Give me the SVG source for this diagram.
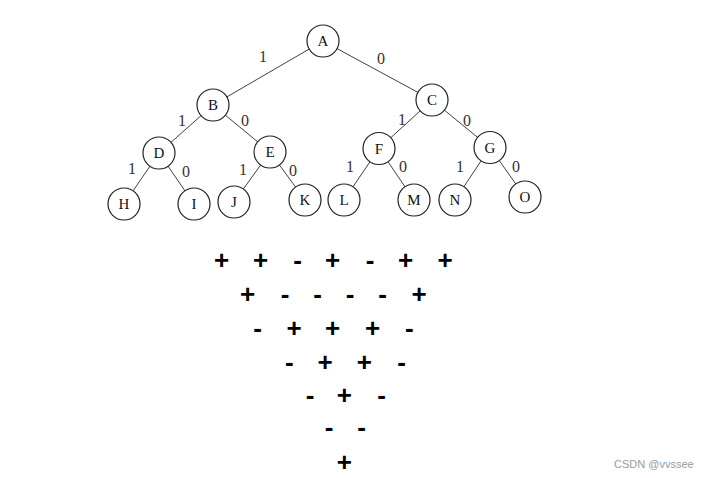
<svg xmlns="http://www.w3.org/2000/svg" width="708" height="478" viewBox="0 0 708 478">
<style>
.e{stroke:#404040;stroke-width:1;fill:none}
.n circle{fill:#fff;stroke:#222;stroke-width:1.2}
.n text{font-family:"Liberation Serif",serif;font-size:15px;fill:#111;text-anchor:middle}
.l{font-family:"Liberation Serif",serif;font-size:16px;fill:#333;text-anchor:middle}
.s{font-family:"Liberation Sans",Arial,sans-serif;font-weight:bold;font-size:26px;fill:#000;text-anchor:middle}
.w{font-family:"Liberation Sans",Arial,sans-serif;font-size:11px;fill:#9a9a9a}
</style>
<rect width="708" height="478" fill="#fff"/>
<g id="connectors">
<line class="e" x1="323" y1="41" x2="213" y2="105"/>
<line class="e" x1="323" y1="41" x2="432" y2="100"/>
<line class="e" x1="213" y1="105" x2="159" y2="153"/>
<line class="e" x1="213" y1="105" x2="270" y2="152"/>
<line class="e" x1="432" y1="100" x2="379" y2="148.5"/>
<line class="e" x1="432" y1="100" x2="490" y2="147.5"/>
<line class="e" x1="159" y1="153" x2="124" y2="204"/>
<line class="e" x1="159" y1="153" x2="194" y2="204"/>
<line class="e" x1="270" y1="152" x2="234" y2="202"/>
<line class="e" x1="270" y1="152" x2="305" y2="200"/>
<line class="e" x1="379" y1="148.5" x2="344" y2="200"/>
<line class="e" x1="379" y1="148.5" x2="414" y2="200"/>
<line class="e" x1="490" y1="147.5" x2="455" y2="200"/>
<line class="e" x1="490" y1="147.5" x2="525" y2="197"/>
</g>
<g id="edge-labels">
<text class="l" x="263" y="61.5">1</text>
<text class="l" x="381" y="63.5">0</text>
<text class="l" x="182" y="125.5">1</text>
<text class="l" x="245" y="125.5">0</text>
<text class="l" x="402" y="124.5">1</text>
<text class="l" x="467" y="126">0</text>
<text class="l" x="132" y="173.5">1</text>
<text class="l" x="186" y="177">0</text>
<text class="l" x="243" y="174.5">1</text>
<text class="l" x="293" y="175.5">0</text>
<text class="l" x="350" y="172">1</text>
<text class="l" x="403" y="171.5">0</text>
<text class="l" x="460" y="172">1</text>
<text class="l" x="516" y="171.5">0</text>
</g>
<g id="A" class="n"><circle cx="323" cy="41" r="16"/><text x="323" y="46">A</text></g>
<g id="B" class="n"><circle cx="213" cy="105" r="16"/><text x="213" y="110">B</text></g>
<g id="C" class="n"><circle cx="432" cy="100" r="16"/><text x="432" y="105">C</text></g>
<g id="D" class="n"><circle cx="159" cy="153" r="16"/><text x="159" y="158">D</text></g>
<g id="E" class="n"><circle cx="270" cy="152" r="16"/><text x="270" y="157">E</text></g>
<g id="F" class="n"><circle cx="379" cy="148.5" r="16"/><text x="379" y="153.5">F</text></g>
<g id="G" class="n"><circle cx="490" cy="147.5" r="16"/><text x="490" y="152.5">G</text></g>
<g id="H" class="n"><circle cx="124" cy="204" r="16"/><text x="124" y="209">H</text></g>
<g id="I" class="n"><circle cx="194" cy="204" r="16"/><text x="194" y="209">I</text></g>
<g id="J" class="n"><circle cx="234" cy="202" r="16"/><text x="234" y="207">J</text></g>
<g id="K" class="n"><circle cx="305" cy="200" r="16"/><text x="305" y="205">K</text></g>
<g id="L" class="n"><circle cx="344" cy="200" r="16"/><text x="344" y="205">L</text></g>
<g id="M" class="n"><circle cx="414" cy="200" r="16"/><text x="414" y="205">M</text></g>
<g id="N" class="n"><circle cx="455" cy="200" r="16"/><text x="455" y="205">N</text></g>
<g id="O" class="n"><circle cx="525" cy="197" r="16"/><text x="525" y="202">O</text></g>
<g id="signs">
<text class="s" x="221.7" y="269">+</text>
<text class="s" x="260.7" y="269">+</text>
<text class="s" x="297.7" y="269">-</text>
<text class="s" x="332.7" y="269">+</text>
<text class="s" x="370" y="269">-</text>
<text class="s" x="405.7" y="269">+</text>
<text class="s" x="445" y="269">+</text>
<text class="s" x="247.7" y="302.7">+</text>
<text class="s" x="285" y="302.7">-</text>
<text class="s" x="317.7" y="302.7">-</text>
<text class="s" x="350" y="302.7">-</text>
<text class="s" x="382.7" y="302.7">-</text>
<text class="s" x="419" y="302.7">+</text>
<text class="s" x="257.7" y="337.3">-</text>
<text class="s" x="294" y="337.3">+</text>
<text class="s" x="332.7" y="337.3">+</text>
<text class="s" x="372.7" y="337.3">+</text>
<text class="s" x="409.3" y="337.3">-</text>
<text class="s" x="289.3" y="370.7">-</text>
<text class="s" x="325" y="370.7">+</text>
<text class="s" x="364.3" y="370.7">+</text>
<text class="s" x="401.7" y="370.7">-</text>
<text class="s" x="310" y="404">-</text>
<text class="s" x="344.3" y="404">+</text>
<text class="s" x="381.7" y="404">-</text>
<text class="s" x="329" y="436">-</text>
<text class="s" x="361.7" y="436">-</text>
<text class="s" x="344.3" y="470.7">+</text>
</g>
<text class="w" x="614" y="468">CSDN @vvssee</text>
</svg>
